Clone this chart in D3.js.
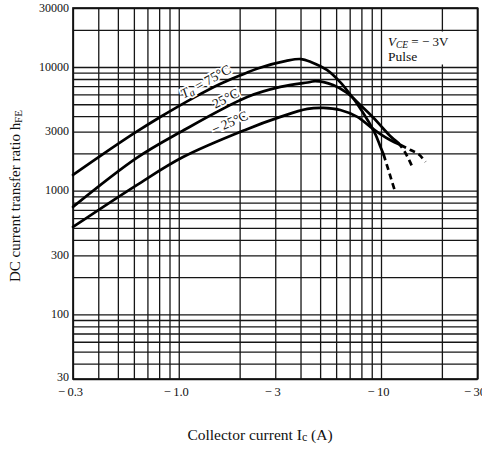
<!DOCTYPE html>
<html><head><meta charset="utf-8">
<script src="https://cdn.jsdelivr.net/npm/d3@7"></script>
<style>
body{margin:0;background:#fff;}
svg text{font-family:"Liberation Serif","Times New Roman",serif;fill:#111;}
</style></head><body>
<svg id="c" width="482" height="450"></svg>
<script>
// ---- data ----
const xTickValues = [0.3, 1, 3, 10, 30];
const xTickLabels = ["\u2212\u20090.3", "\u2212\u20091.0", "\u2212\u20093", "\u2212\u200910", "\u2212\u200930"];
const yTickValues = [30, 100, 300, 1000, 3000, 10000, 30000];
const yTickLabels = ["30", "100", "300", "1000", "3000", "10000", "30000"];

// Ta = 75°C
const ic75 = [0.3, 0.41, 0.6, 0.81, 1.2, 1.6, 2.0, 2.5, 3.4, 4.0, 4.5, 5.4, 6.3, 7.05, 7.5, 8.7, 9.4, 9.9, 10.3];
const hfe75 = [1340, 1910, 2900, 3940, 5710, 7290, 8520, 9820, 11200, 11600, 11000, 9460, 7510, 5990, 5230, 3590, 2840, 2300, 1960];
const ic75d = [10.3, 10.8, 11.25, 11.8];
const hfe75d = [1960, 1530, 1230, 960];

// 25°C
const ic25 = [0.3, 0.62, 1.02, 2.18, 3.18, 4.47, 4.73, 5.8, 6.8, 7.9, 9.2, 10.2, 11.1, 12.2];
const hfe25 = [739, 1840, 2980, 5720, 6900, 7570, 7700, 7160, 6170, 4930, 3870, 3210, 2770, 2430];
const ic25d = [12.2, 13.2, 14.3];
const hfe25d = [2430, 2020, 1550];

// -25°C
const icm25 = [0.3, 0.62, 1.05, 2.13, 3.18, 4.32, 5.18, 6.29, 7.64, 8.86, 9.93, 11.1, 12.5];
const hfem25 = [509, 1110, 1870, 3100, 3950, 4580, 4670, 4490, 3950, 3280, 2870, 2570, 2340];
const icm25d = [12.5, 14.0, 15.3, 16.6];
const hfem25d = [2340, 2130, 1980, 1710];

const gridMult = [1, 2, 3, 4, 5, 6, 7, 8, 9];

// ---- chart ----
const FONT = '"Liberation Serif","Times New Roman",serif';
const svg = d3.select("#c");
const L = 73, R = 477.5, T = 8, B = 379;
const x = d3.scaleLog().domain([0.3, 30]).range([L, R]);
const y = d3.scaleLog().domain([30, 30000]).range([B, T]);

function logGrid(lo, hi) {
  const out = [];
  for (let e = -2; e <= 5; e++) for (const m of gridMult) {
    const v = +(m * Math.pow(10, e)).toPrecision(6);
    if (v >= lo * 0.999 && v <= hi * 1.001) out.push(v);
  }
  return out;
}
const xGrid = logGrid(0.3, 30), yGrid = logGrid(30, 30000);

// grid via axes
const gx = svg.append("g").attr("transform", `translate(0,${B})`)
  .call(d3.axisBottom(x).tickValues(xGrid).tickSize(-(B - T)).tickFormat(""));
const gy = svg.append("g").attr("transform", `translate(${L},0)`)
  .call(d3.axisLeft(y).tickValues(yGrid).tickSize(-(R - L)).tickFormat(""));
[gx, gy].forEach(g => {
  g.select(".domain").remove();
  g.selectAll(".tick line").attr("stroke", "#161616").attr("stroke-width", 1.3);
});

// white box behind annotation
svg.append("rect").attr("x", 385).attr("y", 31.5).attr("width", R - 386).attr("height", 33).attr("fill", "#fff");

// frame
svg.append("rect").attr("x", L).attr("y", T).attr("width", R - L).attr("height", B - T)
  .attr("fill", "none").attr("stroke", "#111").attr("stroke-width", 1.7);

// tick labels
const ya = svg.append("g").attr("transform", `translate(${L},0)`)
  .call(d3.axisLeft(y).tickValues(yTickValues).tickSize(0).tickPadding(4)
    .tickFormat((d, i) => yTickLabels[i]));
ya.select(".domain").remove();
ya.selectAll("text").style("font-family", FONT).style("font-size", "12px").attr("fill", "#111")
  .attr("dy", (d, i) => i === 0 ? "0.12em" : "0.25em");

const xa = svg.append("g").attr("transform", `translate(0,${B})`)
  .call(d3.axisBottom(x).tickValues(xTickValues).tickSize(0).tickPadding(9)
    .tickFormat((d, i) => xTickLabels[i]));
xa.select(".domain").remove();
xa.selectAll("text").style("font-family", FONT).style("font-size", "12.5px").attr("fill", "#111").attr("dx", -3).attr("dy", "0.6em");

// curves
const line = d3.line().x(d => x(d[0])).y(d => y(d[1])).curve(d3.curveCatmullRom.alpha(0.5));
const zip = (a, b) => a.map((v, i) => [v, b[i]]);
const series = [
  [ic75, hfe75, ic75d, hfe75d],
  [ic25, hfe25, ic25d, hfe25d],
  [icm25, hfem25, icm25d, hfem25d]
];
series.forEach(s => {
  svg.append("path").attr("d", line(zip(s[0], s[1]))).attr("fill", "none")
    .attr("stroke", "#000").attr("stroke-width", 2.7).attr("stroke-linecap", "round");
  svg.append("path").attr("d", line(zip(s[2], s[3]))).attr("fill", "none")
    .attr("stroke", "#000").attr("stroke-width", 2.7).attr("stroke-dasharray", "6,4");
});

// curve labels
function curveLabel(ic, h, ang, build) {
  const t = svg.append("text")
    .attr("transform", `translate(${x(ic)},${y(h)}) rotate(${ang})`)
    .attr("text-anchor", "middle").attr("dominant-baseline", "middle")
    .style("font-size", "13.5px")
    .attr("stroke", "#fff").attr("stroke-width", 3.5).attr("paint-order", "stroke");
  build(t);
}
curveLabel(1.37, 7450, -29, t => {
  t.append("tspan").attr("font-style", "italic").text("T");
  t.append("tspan").attr("font-style", "italic").style("font-size", "10.5px").attr("dy", 3).text("a");
  t.append("tspan").attr("dy", -3).text(" = 75\u00B0C");
});
curveLabel(1.72, 5450, -27, t => t.text("25\u00B0C"));
curveLabel(1.80, 3480, -24, t => t.text("\u2212\u200925\u00B0C"));

// annotation
const ann = svg.append("text").attr("x", 388).attr("y", 46).style("font-size", "13px");
ann.append("tspan").attr("font-style", "italic").text("V");
ann.append("tspan").attr("font-style", "italic").style("font-size", "9.5px").attr("dy", 2).text("CE");
ann.append("tspan").attr("dy", -2).text(" = \u2212 3V");
svg.append("text").attr("x", 388).attr("y", 61).style("font-size", "13.5px").text("Pulse");

// axis titles
const xt = svg.append("text").attr("x", 260).attr("y", 440).attr("text-anchor", "middle")
  .style("font-size", "15.5px");
xt.append("tspan").text("Collector current  I");
xt.append("tspan").style("font-size", "12px").attr("dy", 1).text("c");
xt.append("tspan").attr("dy", -1).text(" (A)");

const yt = svg.append("text").attr("transform", "translate(20,196) rotate(-90)")
  .attr("text-anchor", "middle").style("font-size", "15px");
yt.append("tspan").text("DC current transfer ratio  h");
yt.append("tspan").style("font-size", "11px").attr("dy", 2).text("FE");
</script>
</body></html>
